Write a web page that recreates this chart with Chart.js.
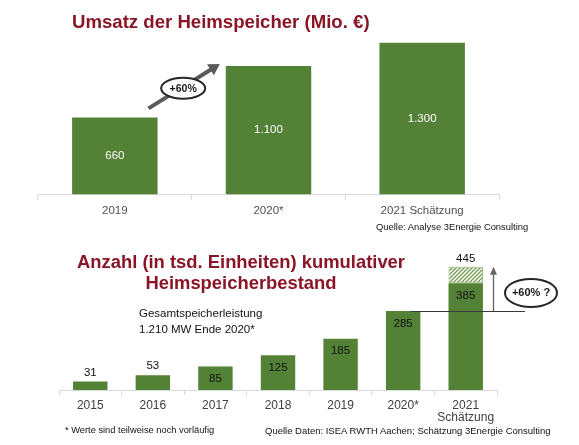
<!DOCTYPE html>
<html><head><meta charset="utf-8">
<script src="https://cdn.jsdelivr.net/npm/chart.js@4"></script>
<style>
html,body{margin:0;padding:0;background:#fff;}
#wrap{position:relative;width:579px;height:445px;overflow:hidden;font-family:"Liberation Sans",Arial,sans-serif;}
canvas{position:absolute;left:0;top:0;}
.t{position:absolute;white-space:nowrap;line-height:1;}
.title{color:#8a1526;font-weight:bold;}
</style></head><body>
<div id="wrap">
<canvas id="c1" width="579" height="445" style="width:579px;height:445px"></canvas>
<canvas id="c2" width="579" height="445" style="width:579px;height:445px"></canvas>
<div class="t title" style="left:72px;top:12.7px;font-size:18.6px">Umsatz der Heimspeicher (Mio. €)</div>
<div class="t" style="left:376px;top:222px;font-size:9.4px;color:#111">Quelle: Analyse 3Energie Consulting</div>
<div class="t title" style="left:0;width:482px;text-align:center;top:252.8px;font-size:18.4px">Anzahl (in tsd. Einheiten) kumulativer</div>
<div class="t title" style="left:0;width:482px;text-align:center;top:273.8px;font-size:18.4px">Heimspeicherbestand</div>
<div class="t" style="left:139px;top:308.2px;font-size:11.5px;color:#111">Gesamtspeicherleistung</div>
<div class="t" style="left:139px;top:323.7px;font-size:11.5px;color:#111">1.210 MW Ende 2020*</div>
<div class="t" style="left:65px;top:425.5px;font-size:9.3px;color:#111">* Werte sind teilweise noch vorläufig</div>
<div class="t" style="left:265px;top:425.5px;font-size:9.5px;color:#111">Quelle Daten: ISEA RWTH Aachen; Schätzung 3Energie Consulting</div>
</div>
<script>
// ---- data ----
const revenueYears = ['2019', '2020*', '2021 Schätzung'];
const revenueValues = [660, 1100, 1300];
const revenueMax = 1400;

const unitYears = ['2015', '2016', '2017', '2018', '2019', '2020*', ['2021', 'Schätzung']];
const unitValues = [31, 53, 85, 125, 185, 285, 385];
const unitUpside = [null, null, null, null, null, null, 60];
const unitMax = 470;

const revenueGrowthLabel = '+60%';
const unitGrowthLabel = '+60% ?';

// ---- styles ----
const GREEN = '#538135';
const FAMILY = '"Liberation Sans", Arial, sans-serif';
Chart.defaults.font.family = FAMILY;

function fmtDE(v) {
  return String(v).replace(/\B(?=(\d{3})+(?!\d))/g, '.');
}

function hatchPattern() {
  const c = document.createElement('canvas');
  c.width = 4; c.height = 4;
  const g = c.getContext('2d');
  g.fillStyle = '#ffffff';
  g.fillRect(0, 0, 4, 4);
  g.strokeStyle = '#6f9a4f';
  g.lineWidth = 1.3;
  g.beginPath();
  g.moveTo(-1, 5); g.lineTo(5, -1);
  g.moveTo(-1, 1); g.lineTo(1, -1);
  g.moveTo(3, 5); g.lineTo(5, 3);
  g.stroke();
  return document.getElementById('c2').getContext('2d').createPattern(c, 'repeat');
}

function arrowHead(ctx, x0, y0, x1, y1, len, half, color) {
  const a = Math.atan2(y1 - y0, x1 - x0);
  ctx.fillStyle = color;
  ctx.beginPath();
  ctx.moveTo(x1, y1);
  ctx.lineTo(x1 - len * Math.cos(a) + half * Math.sin(a), y1 - len * Math.sin(a) - half * Math.cos(a));
  ctx.lineTo(x1 - len * Math.cos(a) - half * Math.sin(a), y1 - len * Math.sin(a) + half * Math.cos(a));
  ctx.closePath();
  ctx.fill();
}

function ellipseLabel(ctx, cx, cy, rx, ry, text, font) {
  ctx.beginPath();
  ctx.ellipse(cx, cy, rx, ry, 0, 0, Math.PI * 2);
  ctx.fillStyle = '#fff';
  ctx.fill();
  ctx.lineWidth = 2;
  ctx.strokeStyle = '#262626';
  ctx.stroke();
  ctx.fillStyle = '#1a1a1a';
  ctx.font = font;
  ctx.textAlign = 'center';
  ctx.textBaseline = 'middle';
  ctx.fillText(text, cx, cy + 0.5);
}

// ---- chart 1 plugins ----
const revenuePlugin = {
  id: 'revenueDeco',
  afterDatasetsDraw(chart) {
    const ctx = chart.ctx;
    const bars = chart.getDatasetMeta(0).data.map(b => b.getProps(['x', 'y', 'base', 'width'], true));
    ctx.save();
    ctx.fillStyle = '#ffffff';
    ctx.font = '11.5px ' + FAMILY;
    ctx.textAlign = 'center';
    ctx.textBaseline = 'middle';
    bars.forEach((b, i) => ctx.fillText(fmtDE(revenueValues[i]), b.x, (b.y + b.base) / 2));
    // growth arrow between first two bars
    const b0 = bars[0], b1 = bars[1];
    const x0 = b0.x + b0.width / 2 - 9, y0 = b0.y - 9;
    const x1 = b1.x - b1.width / 2 - 6, y1 = b1.y - 2;
    const a = Math.atan2(y1 - y0, x1 - x0);
    ctx.strokeStyle = '#5a5a5a';
    ctx.lineWidth = 4;
    ctx.beginPath();
    ctx.moveTo(x0, y0);
    ctx.lineTo(x1 - 8 * Math.cos(a), y1 - 8 * Math.sin(a));
    ctx.stroke();
    arrowHead(ctx, x0, y0, x1, y1, 11, 6.5, '#5a5a5a');
    ellipseLabel(ctx, (x0 + x1) / 2 - 1, (y0 + y1) / 2 + 2, 22, 10.5, revenueGrowthLabel, 'bold 10.5px ' + FAMILY);
    ctx.restore();
  }
};

new Chart(document.getElementById('c1'), {
  type: 'bar',
  data: {
    labels: revenueYears,
    datasets: [{ data: revenueValues, backgroundColor: GREEN, categoryPercentage: 1, barPercentage: 0.556 }]
  },
  options: {
    responsive: false, animation: false, events: [], devicePixelRatio: 1,
    layout: { padding: { top: 31, left: 38, right: 80, bottom: 215.5 } },
    plugins: { legend: { display: false }, tooltip: { enabled: false }, title: { display: false } },
    scales: {
      x: {
        grid: { display: true, drawOnChartArea: false, drawTicks: true, tickLength: 5, color: '#d9d9d9', lineWidth: 1 },
        border: { display: true, color: '#d9d9d9', width: 1 },
        ticks: { color: '#505050', font: { size: 11.5 }, padding: 4, maxRotation: 0, autoSkip: false },
        afterFit: s => { s.height = 35; }
      },
      y: { display: false, min: 0, max: revenueMax }
    }
  },
  plugins: [revenuePlugin]
});

// ---- chart 2 plugins ----
const unitPlugin = {
  id: 'unitDeco',
  afterDatasetsDraw(chart) {
    const ctx = chart.ctx;
    const ys = chart.scales.y;
    const base = chart.getDatasetMeta(0).data.map(b => b.getProps(['x', 'y', 'base', 'width'], true));
    const up = chart.getDatasetMeta(1).data.map(b => b.getProps(['x', 'y', 'base', 'width'], true));
    ctx.save();
    ctx.fillStyle = '#111';
    ctx.font = '11.5px ' + FAMILY;
    ctx.textAlign = 'center';
    ctx.textBaseline = 'middle';
    base.forEach((b, i) => {
      const inside = (b.base - b.y) > 20;
      ctx.fillText(String(unitValues[i]), b.x, inside ? b.y + 12.5 : b.y - 9);
    });
    up.forEach((b, i) => {
      if (unitUpside[i] == null) return;
      ctx.fillText(String(unitValues[i] + unitUpside[i]), b.x, b.y - 7.5);
    });
    // reference line at 2020 level
    const last = unitValues.length - 1;
    const y285 = ys.getPixelForValue(unitValues[last - 1]);
    const yTop = ys.getPixelForValue(unitValues[last] + unitUpside[last]);
    const b5 = base[last - 1], b6 = base[last];
    ctx.strokeStyle = '#3a3a3a';
    ctx.lineWidth = 1;
    ctx.beginPath();
    ctx.moveTo(b5.x + b5.width / 2 - 10, Math.round(y285) + 0.5);
    ctx.lineTo(525, Math.round(y285) + 0.5);
    ctx.stroke();
    // vertical arrow
    const ax = Math.round(b6.x + b6.width / 2 + 10) + 0.5;
    ctx.strokeStyle = '#666';
    ctx.lineWidth = 1.3;
    ctx.beginPath();
    ctx.moveTo(ax, y285);
    ctx.lineTo(ax, yTop + 6);
    ctx.stroke();
    arrowHead(ctx, ax, y285, ax, yTop, 8, 3.5, '#666');
    ellipseLabel(ctx, ax + 37.5, (y285 + yTop) / 2 + 4, 26, 14, unitGrowthLabel, 'bold 11px ' + FAMILY);
    ctx.restore();
  }
};

new Chart(document.getElementById('c2'), {
  type: 'bar',
  data: {
    labels: unitYears,
    datasets: [
      { data: unitValues, backgroundColor: GREEN, categoryPercentage: 1, barPercentage: 0.55 },
      { data: unitUpside, backgroundColor: hatchPattern(), borderColor: '#8fb374', borderWidth: 1, borderSkipped: false, categoryPercentage: 1, barPercentage: 0.55 }
    ]
  },
  options: {
    responsive: false, animation: false, events: [], devicePixelRatio: 1,
    layout: { padding: { top: 259.8, left: 59, right: 82, bottom: 20 } },
    plugins: { legend: { display: false }, tooltip: { enabled: false }, title: { display: false } },
    scales: {
      x: {
        stacked: true,
        grid: { display: true, drawOnChartArea: false, drawTicks: true, tickLength: 5, color: '#d9d9d9', lineWidth: 1 },
        border: { display: true, color: '#d9d9d9', width: 1 },
        ticks: { color: '#404040', font: { size: 12, lineHeight: 1 }, padding: 5, maxRotation: 0, autoSkip: false },
        afterFit: s => { s.height = 35; }
      },
      y: { stacked: true, display: false, min: 0, max: unitMax }
    }
  },
  plugins: [unitPlugin]
});
</script>
</body></html>
